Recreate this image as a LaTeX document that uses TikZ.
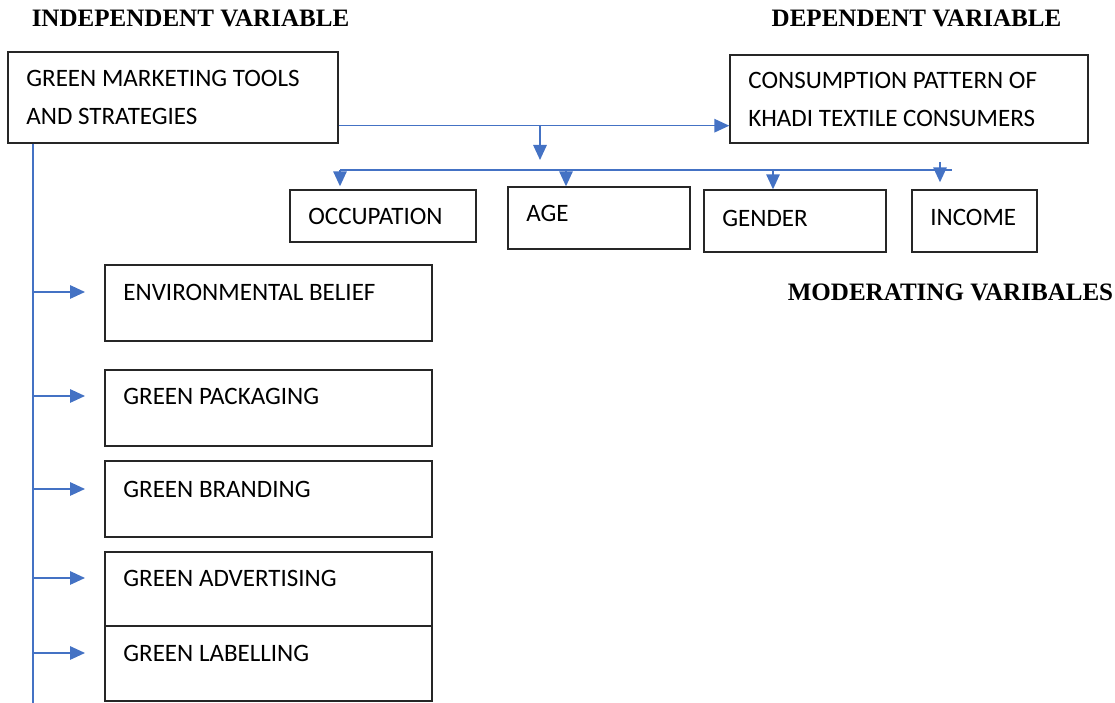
\documentclass[tikz,border=0pt]{standalone}
\usepackage{fontspec}
\setmainfont{Carlito}
\newfontfamily\titlefont{Liberation Serif}
\usepackage{tikz}
\usetikzlibrary{calc}
\usetikzlibrary{positioning}
\usetikzlibrary{arrows.meta}
\definecolor{linkblue}{HTML}{4472C4}

\begin{document}
\begin{tikzpicture}[
  box/.style={draw=black!85, line width=0.8pt, inner sep=0pt},
  txt/.style={anchor=west, align=left, inner sep=0pt, font=\fontsize{14.25}{21.6}\selectfont},
  head/.style={inner sep=0pt, font=\titlefont\bfseries\fontsize{14.25}{17}\selectfont},
  link/.style={draw=linkblue, line width=0.85pt},
  arr/.style={link, -{Triangle[length=0.3cm, width=0.27cm]}}
]
\useasboundingbox (0,0) rectangle (22.3,14.06);

\node[head] (indep) at (3.81,13.7) {INDEPENDENT VARIABLE};
\node[head] (dep) at (18.33,13.7) {DEPENDENT VARIABLE};
\node[head] (moder) at (19.01,8.22) {MODERATING VARIBALES};

\node[box, minimum width=6.6cm, minimum height=1.82cm] (gmt) at (3.46,12.11) {};
\node[txt] (gmtt) at (0.52,12.12) {GREEN MARKETING TOOLS\\AND STRATEGIES};
\node[box, minimum width=7.16cm, minimum height=1.76cm] (cons) at (18.18,12.08) {};
\node[txt] (const) at (14.96,12.07) {CONSUMPTION PATTERN OF\\KHADI TEXTILE CONSUMERS};

\node[box, minimum width=3.72cm, minimum height=1.04cm] (occ) at (7.66,9.74) {};
\node[txt] (occt) at (6.16,9.74) {OCCUPATION};
\node[box, minimum width=3.64cm, minimum height=1.24cm] (age) at (11.98,9.70) {};
\node[txt] (aget) at (10.52,9.80) {AGE};
\node[box, minimum width=3.64cm, minimum height=1.24cm] (gen) at (15.9,9.64) {};
\node[txt] (gent) at (14.44,9.70) {GENDER};
\node[box, minimum width=2.5cm, minimum height=1.24cm] (inc) at (19.49,9.64) {};
\node[txt] (inct) at (18.6,9.72) {INCOME};

\node[box, minimum width=6.54cm, minimum height=1.52cm] (env) at (5.37,8.0) {};
\node[txt] (envt) at (2.46,8.22) {ENVIRONMENTAL BELIEF};
\node[box, minimum width=6.54cm, minimum height=1.52cm] (pack) at (5.37,5.9) {};
\node[txt] (packt) at (2.46,6.14) {GREEN PACKAGING};
\node[box, minimum width=6.54cm, minimum height=1.52cm] (brand) at (5.37,4.08) {};
\node[txt] (brandt) at (2.46,4.28) {GREEN BRANDING};
\node[box, minimum width=6.54cm, minimum height=1.48cm] (adv) at (5.37,2.28) {};
\node[txt] (advt) at (2.46,2.5) {GREEN ADVERTISING};
\node[box, minimum width=6.54cm, minimum height=1.5cm] (lab) at (5.37,0.79) {};
\node[txt] (labt) at (2.46,1.0) {GREEN LABELLING};

\coordinate (split) at ($(gmt.south east)+(0,0.36)$);
\draw[arr] (split) -- (split -| cons.west);
\coordinate (fork) at (10.8,11.56);
\draw[arr] (fork) -- (10.8,10.86);

\coordinate (busl) at (6.8,10.66);
\coordinate (busr) at (19.04,10.66);
\draw[link] (busl) -- (busr);
\draw[arr, shorten >=0.06cm] (busl) -- (busl |- occ.north);
\foreach \x/\n in {11.32/age, 15.46/gen}
  \draw[arr] (\x,10.66) -- (\x,10.66 |- \n.north);
\draw[arr, shorten >=0.14cm] (18.8,10.82) -- (18.8,10.82 |- inc.north);

\coordinate (spinebot) at (0.66,0);
\draw[link] (gmt.south -| spinebot) -- (spinebot);
\foreach \n in {envt, packt, brandt, advt, labt}
  \draw[arr, shorten >=0.76cm] (spinebot |- \n.west) -- (\n.west);
\end{tikzpicture}
\end{document}
